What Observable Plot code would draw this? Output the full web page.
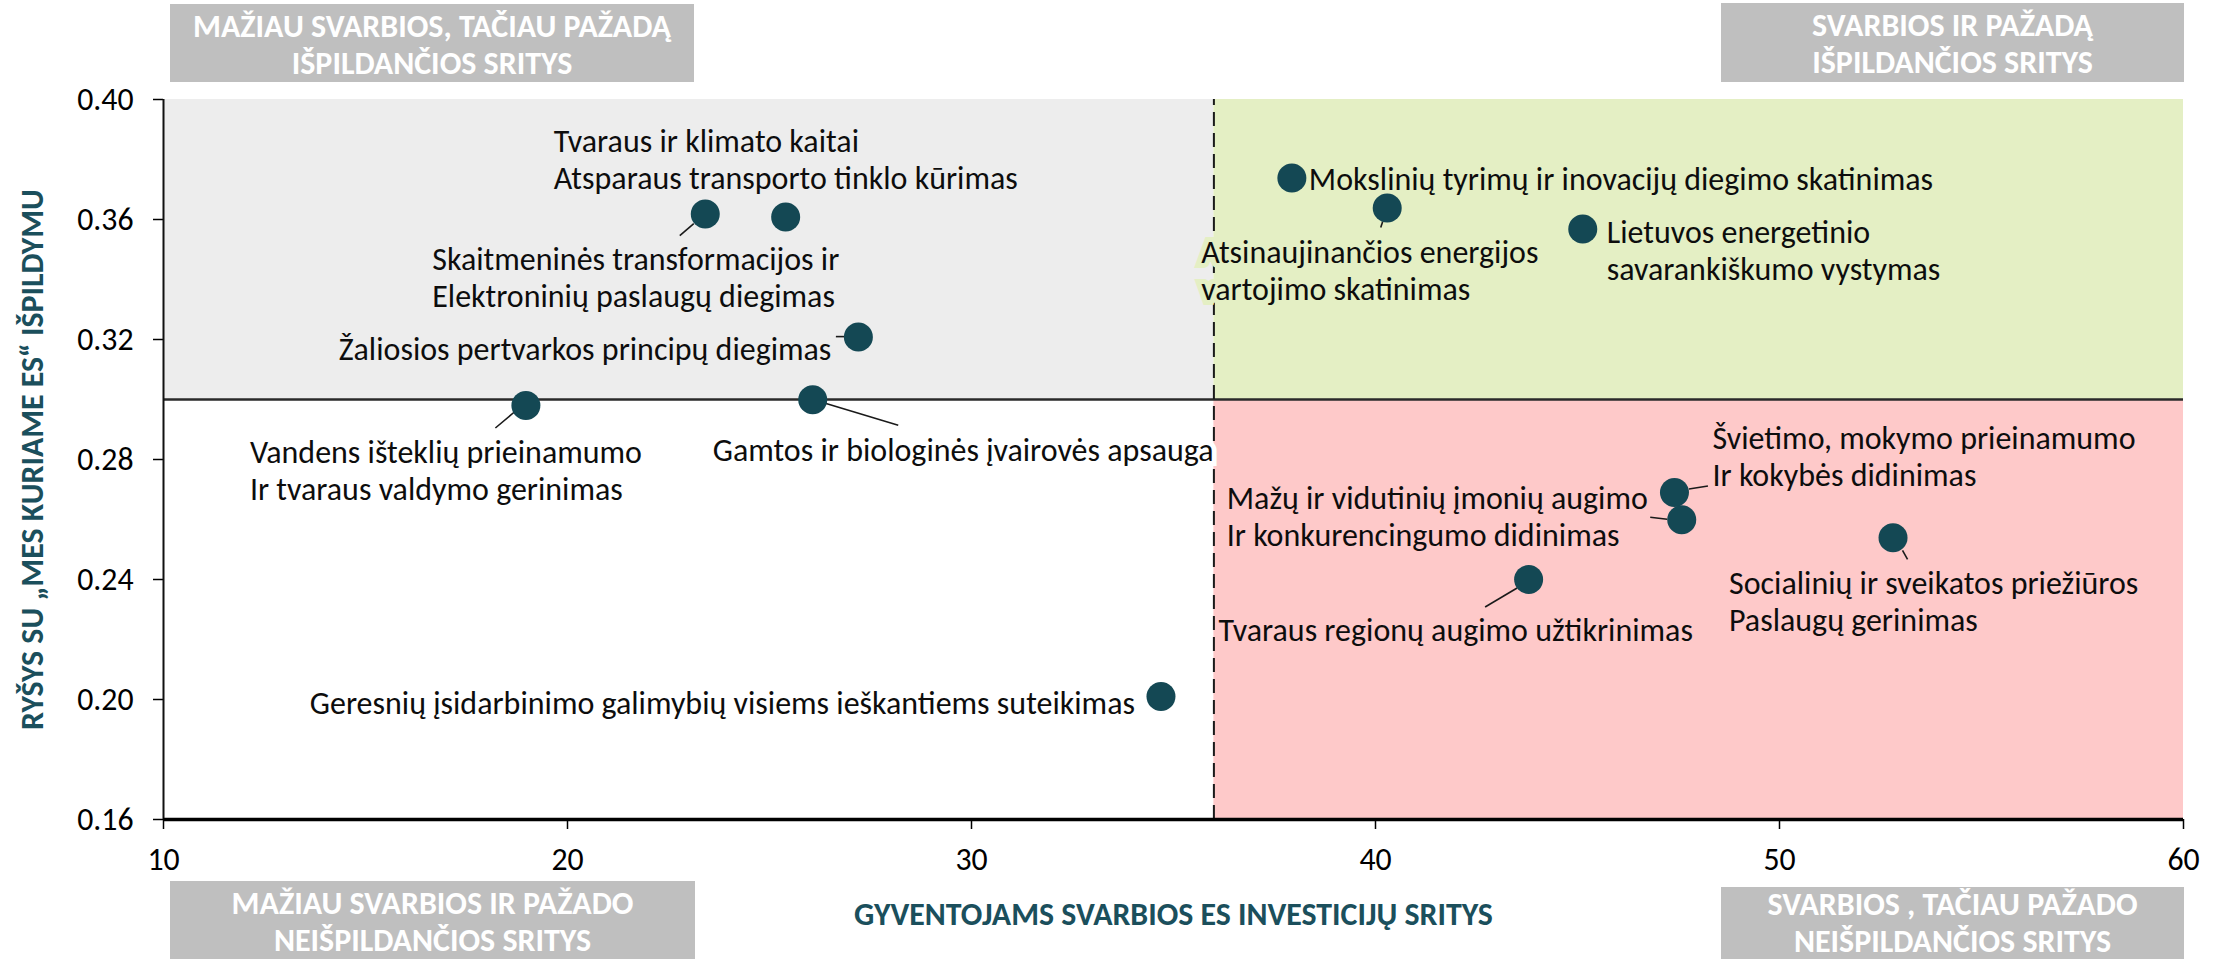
<!DOCTYPE html>
<html>
<head>
<meta charset="utf-8">
<script src="https://cdn.jsdelivr.net/npm/d3@7"></script>
<script src="https://cdn.jsdelivr.net/npm/@observablehq/plot@0.6"></script>
<style>
  html, body { margin: 0; padding: 0; background: #ffffff; }
  #chart svg { display: block; }
</style>
</head>
<body>
<div id="chart"></div>
<script>
// ---------------- DATA ----------------
const areaNames = [
  "Tvaraus ir klimato kaitai\nAtsparaus transporto tinklo kūrimas",
  "Skaitmeninės transformacijos ir\nElektroninių paslaugų diegimas",
  "Žaliosios pertvarkos principų diegimas",
  "Vandens išteklių prieinamumo\nIr tvaraus valdymo gerinimas",
  "Gamtos ir biologinės įvairovės apsauga",
  "Geresnių įsidarbinimo galimybių visiems ieškantiems suteikimas",
  "Mokslinių tyrimų ir inovacijų diegimo skatinimas",
  "Atsinaujinančios energijos\nvartojimo skatinimas",
  "Lietuvos energetinio\nsavarankiškumo vystymas",
  "Švietimo, mokymo prieinamumo\nIr kokybės didinimas",
  "Mažų ir vidutinių įmonių augimo\nIr konkurencingumo didinimas",
  "Tvaraus regionų augimo užtikrinimas",
  "Socialinių ir sveikatos priežiūros\nPaslaugų gerinimas"
];
const importance = [25.40, 23.41, 27.20, 18.97, 26.07, 34.69, 37.93, 40.29, 45.13, 47.40, 47.58, 43.79, 52.81];
const fulfilment = [0.3608, 0.3618, 0.3208, 0.2980, 0.2999, 0.2010, 0.3738, 0.3638, 0.3568, 0.2690, 0.2599, 0.2400, 0.2539];

const xDomain = [10, 60];
const yDomain = [0.16, 0.40];
const xTicks = [10, 20, 30, 40, 50, 60];
const yTicks = [0.16, 0.20, 0.24, 0.28, 0.32, 0.36, 0.40];
const xThreshold = 36;
const yThreshold = 0.30;

const xTitle = "GYVENTOJAMS SVARBIOS ES INVESTICIJŲ SRITYS";
const yTitle = "RYŠYS SU „MES KURIAME ES“ IŠPILDYMU";
const quadrantLabels = [
  ["MAŽIAU SVARBIOS, TAČIAU PAŽADĄ", "IŠPILDANČIOS SRITYS"],
  ["SVARBIOS IR PAŽADĄ", "IŠPILDANČIOS SRITYS"],
  ["MAŽIAU SVARBIOS IR PAŽADO", "NEIŠPILDANČIOS SRITYS"],
  ["SVARBIOS , TAČIAU PAŽADO", "NEIŠPILDANČIOS SRITYS"]
];

// ---------------- LAYOUT (pixel offsets of labels / leader lines) ----------------
const labelLayout = [
  {dx: -232, dy: -58, anchor: "start"},
  {dx: -273, dy: 63, anchor: "start", leader: [-11, 10, -25, 22]},
  {dx: -27, dy: 11, anchor: "end", leader: [-22, 0, -13, 0]},
  {dx: -276, dy: 64, anchor: "start", leader: [-30, 23, -11, 7]},
  {dx: -100, dy: 49, anchor: "start", leader: [13, 4, 86, 26], halo: "#ffffff"},
  {dx: -26, dy: 6, anchor: "end"},
  {dx: 17, dy: 0, anchor: "start"},
  {dx: -186, dy: 62, anchor: "start", leader: [-4, 14, -6, 20], halo: "#e4efc4"},
  {dx: 24, dy: 21, anchor: "start"},
  {dx: 38, dy: -37, anchor: "start", leader: [15, -3, 34, -6]},
  {dx: -455, dy: -4, anchor: "start", leader: [-31, -2, -14, 0]},
  {dx: -310, dy: 50, anchor: "start", leader: [-43, 28, -11, 9]},
  {dx: -164, dy: 63, anchor: "start", leader: [10, 13, 15, 22]}
];

const points = areaNames.map((name, i) => ({name, x: importance[i], y: fulfilment[i], i}));
const quadrants = [
  {x1: xDomain[0], x2: xThreshold, y1: yThreshold, y2: yDomain[1], fill: "#ededed"},
  {x1: xThreshold, x2: xDomain[1], y1: yThreshold, y2: yDomain[1], fill: "#e4efc4"},
  {x1: xThreshold, x2: xDomain[1], y1: yDomain[0], y2: yThreshold, fill: "#fec9c9"}
];

// ---------------- FONT PICKING ----------------
const cnv = document.createElement("canvas");
const ctx = cnv.getContext("2d");
function hasFont(f) {
  const s = "Mokslinių tyrimų abcdefghijklmnopqrstuvwxyz 0123456789 ABCDEFGHIJ";
  for (const base of ["monospace", "serif"]) {
    ctx.font = `72px ${base}`;
    const a = ctx.measureText(s).width;
    ctx.font = `72px "${f}", ${base}`;
    const b = ctx.measureText(s).width;
    if (Math.abs(a - b) > 0.5) return true;
  }
  return false;
}
const fam = ["Carlito", "Liberation Sans Narrow", "Arial Narrow", "Lato", "Open Sans"].find(hasFont) || "sans-serif";
const FONT = `"${fam}", "Lato", sans-serif`;
function fitSize(pairs, weight) {
  const r = pairs.map(([t, w]) => {
    ctx.font = `${weight} 100px ${FONT}`;
    return 100 * w / ctx.measureText(t).width;
  });
  return d3.mean(r);
}
const labelFs = fitSize([
  ["Mokslinių tyrimų ir inovacijų diegimo skatinimas", 624],
  ["Geresnių įsidarbinimo galimybių visiems ieškantiems suteikimas", 825],
  ["Žaliosios pertvarkos principų diegimas", 493]
], 400);
const tickFs = fitSize([["0.36", 55], ["20", 33]], 400);
const xTitleFs = fitSize([[xTitle, 639]], 700);
const yTitleFs = fitSize([[yTitle, 541]], 700);
const boxFs = fitSize([
  [quadrantLabels[0][0], 479], [quadrantLabels[1][0], 282],
  [quadrantLabels[2][0], 400], [quadrantLabels[3][0], 370]
], 700);
const lineGap = 37;
const teal = "#1b4f5c";

// ---------------- MARKS ----------------
function leaders(index, scales) {
  const g = d3.create("svg:g").attr("stroke", "#1a1a1a").attr("stroke-width", 1.6);
  points.forEach(d => {
    const L = labelLayout[d.i].leader;
    if (!L) return;
    const px = scales.x(d.x), py = scales.y(d.y);
    g.append("line")
      .attr("x1", px + L[0]).attr("y1", py + L[1])
      .attr("x2", px + L[2]).attr("y2", py + L[3]);
  });
  return g.node();
}

function quadrantBoxes(index, scales, values, dims) {
  const L = dims.marginLeft, R = dims.width - dims.marginRight;
  const H = dims.height, T = dims.marginTop;
  const boxes = [
    {x: L + 7, w: 524, y: 4, h: T - 21, off: 22},
    {x: R - 462, w: 463, y: 3, h: T - 20, off: 22},
    {x: L + 7, w: 525, y: H - 78, h: 80, off: 22},
    {x: R - 462, w: 463, y: H - 72, h: 80, off: 17}
  ];
  const g = d3.create("svg:g");
  boxes.forEach((b, k) => {
    g.append("rect").attr("x", b.x).attr("y", b.y).attr("width", b.w).attr("height", b.h)
      .attr("fill", "#bfbfbf");
    quadrantLabels[k].forEach((t, j) => {
      g.append("text")
        .attr("x", b.x + b.w / 2).attr("y", b.y + b.off + j * lineGap)
        .attr("dy", "0.35em")
        .attr("text-anchor", "middle")
        .attr("fill", "#ffffff")
        .attr("font-weight", 700)
        .attr("font-size", boxFs)
        .text(t);
    });
  });
  return g.node();
}

const labelMarks = points.map(d => {
  const lay = labelLayout[d.i];
  const opts = {
    x: "x", y: "y", text: "name",
    dx: lay.dx, dy: lay.dy,
    textAnchor: lay.anchor,
    lineAnchor: "middle",
    lineHeight: lineGap / labelFs,
    fontSize: labelFs,
    fill: "#0d0d0d"
  };
  if (lay.halo) { opts.stroke = lay.halo; opts.strokeWidth = 10; opts.strokeLinejoin = "miter"; }
  return Plot.text([d], opts);
});

const chart = Plot.plot({
  width: 2226,
  height: 959,
  marginTop: 99,
  marginBottom: 140,
  marginLeft: 163,
  marginRight: 43,
  style: {fontFamily: FONT, background: "#ffffff", color: "#000000", overflow: "visible"},
  x: {domain: xDomain},
  y: {domain: yDomain},
  color: {type: "identity"},
  marks: [
    Plot.rect(quadrants, {x1: "x1", x2: "x2", y1: "y1", y2: "y2", fill: "fill"}),
    Plot.ruleY([yThreshold], {x1: xDomain[0], x2: xDomain[1], stroke: "#2a2a2a", strokeWidth: 2.5}),
    Plot.ruleX([xThreshold], {y1: yDomain[0], y2: yDomain[1], stroke: "#1a1a1a", strokeWidth: 2, strokeDasharray: "14,7"}),
    Plot.axisY({ticks: yTicks, tickFormat: d3.format(".2f"), tickSize: 10, tickPadding: 20, fontSize: tickFs, label: null, strokeWidth: 1.5}),
    Plot.axisX({ticks: xTicks, tickSize: 10, tickPadding: 18, fontSize: tickFs, label: null, strokeWidth: 1.5}),
    Plot.ruleX([xDomain[0]], {y1: yDomain[0], y2: yDomain[1], stroke: "#111", strokeWidth: 2}),
    Plot.ruleY([yDomain[0]], {x1: xDomain[0], x2: xDomain[1], stroke: "#000", strokeWidth: 3.5}),
    leaders,
    Plot.dot(points, {x: "x", y: "y", r: 14.5, fill: "#144854", stroke: "none"}),
    ...labelMarks,
    Plot.text([xTitle], {text: d => d, frameAnchor: "bottom", textAnchor: "middle", dy: 105, fontSize: xTitleFs, fontWeight: 700, fill: teal}),
    Plot.text([yTitle], {text: d => d, frameAnchor: "left", textAnchor: "middle", dx: -131, rotate: -90, fontSize: yTitleFs, fontWeight: 700, fill: teal}),
    quadrantBoxes
  ]
});
document.getElementById("chart").appendChild(chart);
</script>
</body>
</html>
